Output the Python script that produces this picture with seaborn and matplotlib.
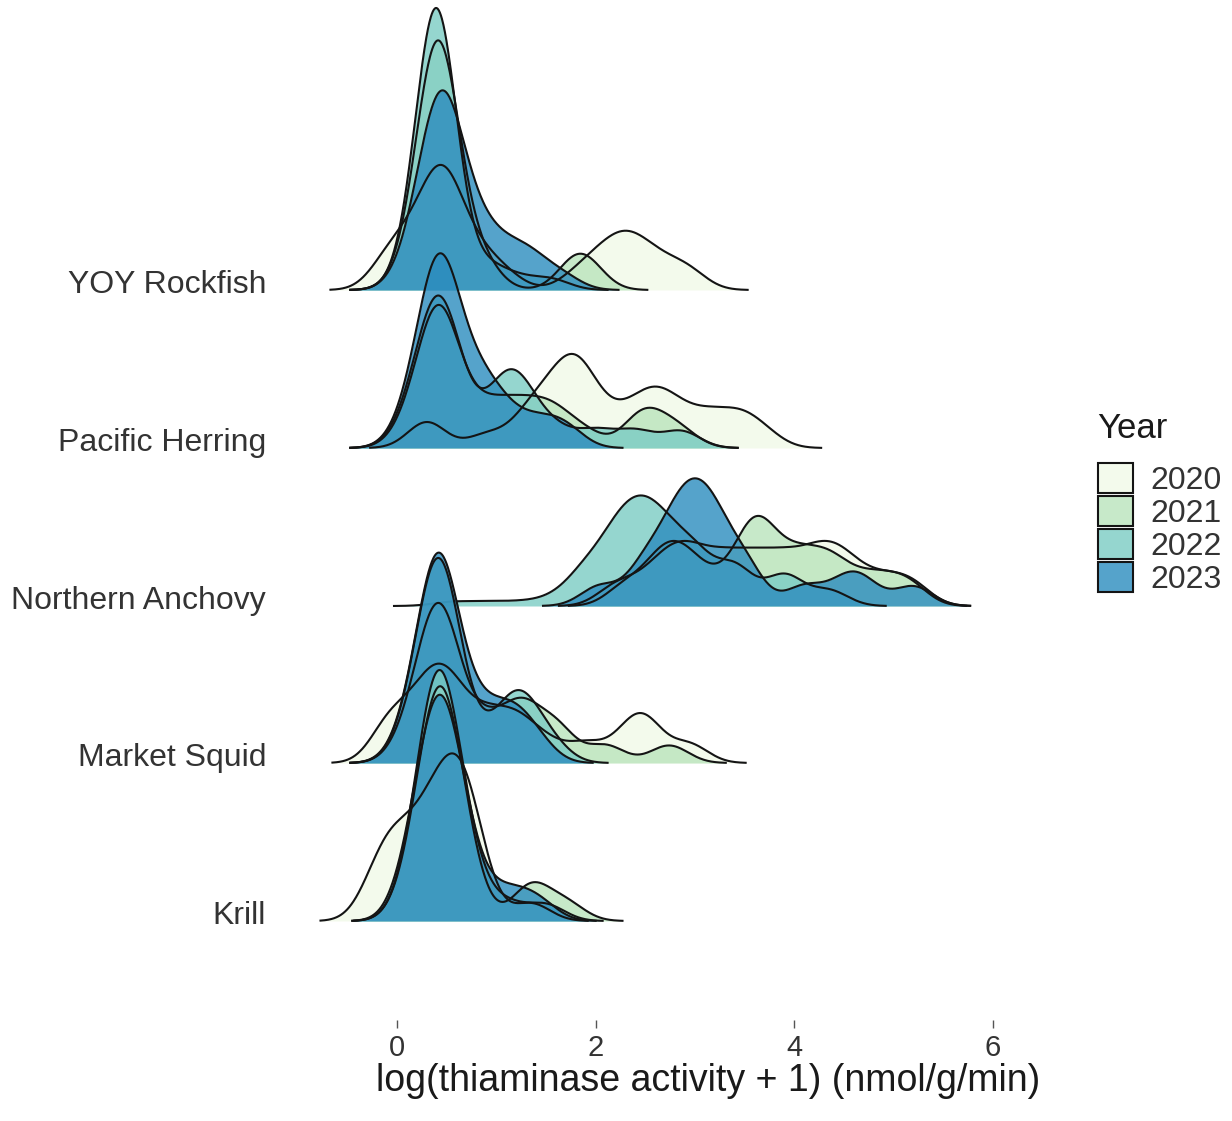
import numpy as np
import pandas as pd
import matplotlib
matplotlib.use("Agg")
import matplotlib.pyplot as plt
from matplotlib.patches import Patch
from matplotlib.colors import to_rgba
import seaborn as sns

# ---- data: log(thiaminase activity + 1) values and how many samples share each value ----
YEARS = [2020, 2021, 2022, 2023]
SPECIES = ["YOY Rockfish", "Pacific Herring", "Northern Anchovy", "Market Squid", "Krill"]

ROCKFISH_VALUES = {
    2020: [-0.1, 0.1, 0.3, 0.45, 0.6, 0.85, 1.1, 1.8, 2.05, 2.3, 2.55, 2.8, 2.96],
    2021: [0.1, 0.3, 0.42, 0.55, 0.85, 1.8, 1.95],
    2022: [0.1, 0.3, 0.4, 0.5, 0.9, 1.2, 1.55],
    2023: [0.1, 0.3, 0.45, 0.6, 0.85, 1.1, 1.35, 1.66],
}
ROCKFISH_COUNTS = {
    2020: [2, 2, 3, 5, 3, 2, 1, 1, 2, 3, 2, 1, 1],
    2021: [1, 6, 10, 5, 2, 2, 1],
    2022: [1, 8, 14, 7, 2, 1, 1],
    2023: [1, 5, 7, 5, 3, 2, 2, 1],
}

HERRING_VALUES = {
    2020: [0.3, 0.9, 1.3, 1.55, 1.8, 2.05, 2.35, 2.6, 2.85, 3.15, 3.45, 3.7],
    2021: [0.1, 0.3, 0.42, 0.55, 0.85, 1.1, 1.35, 1.6, 1.9, 2.45, 2.65, 2.86],
    2022: [0.1, 0.3, 0.42, 0.55, 0.85, 1.1, 1.3, 1.6, 2.0, 2.4, 2.86],
    2023: [0.1, 0.3, 0.42, 0.55, 0.75, 0.95, 1.2, 1.45, 1.7],
}
HERRING_COUNTS = {
    2020: [2, 1, 2, 3, 5, 2, 2, 3, 2, 2, 2, 1],
    2021: [1, 3, 5, 3, 2, 2, 2, 2, 1, 2, 1, 1],
    2022: [1, 3, 4, 3, 1, 3, 2, 1, 1, 1, 1],
    2023: [1, 3, 5, 3, 2, 2, 1, 1, 1],
}

ANCHOVY_VALUES = {
    2020: [2.2, 2.5, 2.75, 3.0, 3.3, 3.6, 3.9, 4.2, 4.45, 4.7, 4.95, 5.2],
    2021: [2.3, 2.65, 2.9, 3.2, 3.55, 3.75, 4.05, 4.35, 4.65, 4.9, 5.16],
    2022: [0.54, 0.9, 1.25, 1.6, 1.9, 2.2, 2.45, 2.7, 3.0, 3.4, 3.9, 4.35],
    2023: [2.04, 2.5, 2.8, 3.0, 3.2, 3.5, 4.1, 4.5, 4.7, 5.2],
}
ANCHOVY_COUNTS = {
    2020: [1, 1, 2, 2, 2, 2, 2, 2, 2, 1, 1, 1],
    2021: [1, 2, 2, 1, 3, 2, 2, 2, 1, 1, 1],
    2022: [1, 1, 1, 2, 8, 14, 17, 14, 12, 10, 8, 4],
    2023: [1, 2, 3, 3, 3, 2, 1, 1, 1, 1],
}

SQUID_VALUES = {
    2020: [-0.08, 0.15, 0.3, 0.45, 0.6, 0.9, 1.2, 1.5, 1.9, 2.3, 2.5, 2.94],
    2021: [0.1, 0.3, 0.42, 0.55, 0.9, 1.25, 1.6, 2.1, 2.74],
    2022: [0.1, 0.3, 0.42, 0.55, 0.9, 1.15, 1.3, 1.55],
    2023: [0.1, 0.3, 0.42, 0.55, 0.85, 1.15, 1.4],
}
SQUID_COUNTS = {
    2020: [2, 1, 2, 2, 2, 2, 2, 1, 1, 1, 2, 1],
    2021: [1, 3, 4, 3, 2, 3, 2, 1, 1],
    2022: [1, 4, 5, 4, 1, 2, 2, 1],
    2023: [1, 3, 5, 3, 2, 2, 1],
}

KRILL_VALUES = {
    2020: [-0.2, 0.0, 0.25, 0.45, 0.65, 0.8, 1.35],
    2021: [0.12, 0.3, 0.42, 0.55, 0.7, 1.35, 1.7],
    2022: [0.12, 0.3, 0.42, 0.55, 0.75, 1.1, 1.5],
    2023: [0.14, 0.3, 0.43, 0.56, 0.72, 1.0, 1.2, 1.43],
}
KRILL_COUNTS = {
    2020: [2, 3, 3, 4, 5, 2, 1],
    2021: [1, 4, 6, 4, 2, 2, 1],
    2022: [1, 5, 7, 5, 2, 1, 1],
    2023: [2, 4, 6, 4, 2, 1, 1, 1],
}

YEAR_COLORS = ["#F0F9E8", "#BAE4BC", "#7BCCC4", "#2B8CBE"]  # GnBu
FILL_ALPHA = 0.8
BANDWIDTH = 0.19  # joint bandwidth used for every ridge

tables = {
    "YOY Rockfish": (ROCKFISH_VALUES, ROCKFISH_COUNTS),
    "Pacific Herring": (HERRING_VALUES, HERRING_COUNTS),
    "Northern Anchovy": (ANCHOVY_VALUES, ANCHOVY_COUNTS),
    "Market Squid": (SQUID_VALUES, SQUID_COUNTS),
    "Krill": (KRILL_VALUES, KRILL_COUNTS),
}
frames = []
for sp, (vals, cnts) in tables.items():
    for yr in YEARS:
        obs = np.repeat(vals[yr], cnts[yr])
        frames.append(pd.DataFrame({"species": sp, "year": yr, "value": obs}))
df = pd.concat(frames, ignore_index=True)

# ---- figure layout (pixel based) ----
W, H = 1232, 1121
DPI = 100
plt.rcParams["font.family"] = ["Liberation Sans", "DejaVu Sans"]
fig = plt.figure(figsize=(W / DPI, H / DPI), dpi=DPI)

PANEL_L, PANEL_R = 278, 1040
X0_PX, PX_PER_UNIT = 397.0, 99.33
XLIM = ((PANEL_L - X0_PX) / PX_PER_UNIT, (PANEL_R - X0_PX) / PX_PER_UNIT)
BASELINES = [290, 448, 606, 763, 921]
ABOVE, BELOW = 285, 99
TALLEST_PX = 282

LINE_KW = dict(color="#141414", linewidth=1.5)
axes = []
for sp, base in zip(SPECIES, BASELINES):
    ax = fig.add_axes([PANEL_L / W, 1 - (base + BELOW) / H,
                       (PANEL_R - PANEL_L) / W, (ABOVE + BELOW) / H])
    ax.set_facecolor("none")
    sub_sp = df[df["species"] == sp]
    for yr, col in zip(YEARS, YEAR_COLORS):
        sub = sub_sp[sub_sp["year"] == yr]
        sd = sub["value"].std(ddof=1)
        kw = dict(data=sub, x="value", bw_method=BANDWIDTH / sd,
                  cut=3, gridsize=512, ax=ax)
        sns.kdeplot(fill=True, color=col, alpha=FILL_ALPHA, linewidth=0, **kw)
        sns.kdeplot(**kw, **LINE_KW)
    axes.append(ax)

# common vertical scale so the tallest ridge reaches TALLEST_PX
peak = max(np.max(l.get_ydata()) for ax in axes for l in ax.lines)
top = peak * ABOVE / TALLEST_PX
for ax in axes:
    ax.set_xlim(*XLIM)
    ax.set_ylim(-top * BELOW / ABOVE, top)
    ax.set_xlabel("")
    ax.set_ylabel("")
    ax.set_yticks([])
    for s in ax.spines.values():
        s.set_visible(False)
    ax.tick_params(axis="x", bottom=False, labelbottom=False)

bottom_ax = axes[-1]
bottom_ax.set_xticks([0, 2, 4, 6])
bottom_ax.tick_params(axis="x", bottom=True, labelbottom=True, length=6, width=1.0,
                      color="#555555", labelsize=21, labelcolor="#333333", pad=4)

for sp, base in zip(SPECIES, BASELINES):
    fig.text(266 / W, 1 - (base + 3) / H, sp, ha="right", va="baseline",
             fontsize=23, color="#333333")

fig.text(PANEL_R / W, 1 - 1091 / H, "log(thiaminase activity + 1) (nmol/g/min)",
         ha="right", va="baseline", fontsize=27, color="#1a1a1a")

# legend: title and keys
fig.text(1097 / W, 1 - 428 / H, "Year", ha="left", va="center", fontsize=25,
         color="#1a1a1a")
handles = [Patch(facecolor=to_rgba(c, FILL_ALPHA), edgecolor="#141414", linewidth=1.5)
           for c in YEAR_COLORS]
leg = fig.legend(handles, [str(y) for y in YEARS], loc="upper left",
                 bbox_to_anchor=(1098 / W, 1 - 463 / H), frameon=False,
                 fontsize=23, handlelength=1.1, handleheight=1.08,
                 handletextpad=0.55, labelspacing=0.0, borderpad=0, borderaxespad=0)
for t in leg.get_texts():
    t.set_color("#333333")

fig.savefig("out.png", dpi=DPI)
